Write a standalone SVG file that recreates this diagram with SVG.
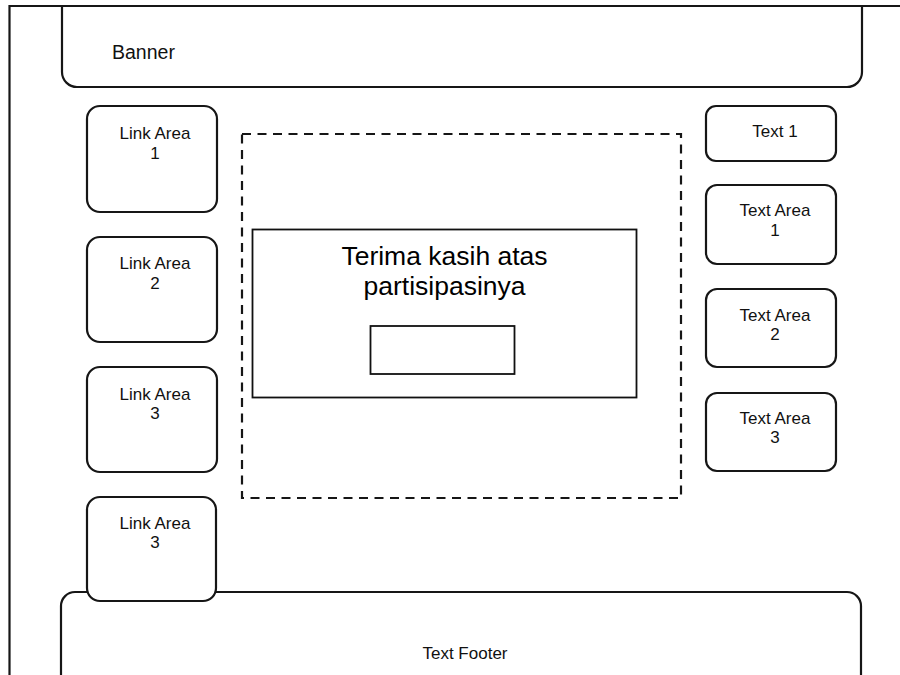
<svg xmlns="http://www.w3.org/2000/svg" width="900" height="675" viewBox="0 0 900 675">
  <style>
    .box { fill: #ffffff; stroke: #161616; stroke-width: 2.2; }
    .line { fill: none; stroke: #161616; stroke-width: 2.2; }
    .plain { fill: #ffffff; stroke: #111111; stroke-width: 1.8; }
    .dash { fill: none; stroke: #161616; stroke-width: 2.2; stroke-dasharray: 9 6.5; }
    .lbl { font-family: "Liberation Sans", Arial, sans-serif; font-size: 17px; fill: #111111; text-anchor: middle; }
    .big { font-family: "Liberation Sans", Arial, sans-serif; font-size: 26.5px; fill: #000000; text-anchor: middle; }
  </style>
  <rect width="900" height="675" fill="#ffffff"/>

  <!-- page frame -->
  <g id="frame">
    <path class="line" d="M9.5,675 V6 H900"/>
  </g>

  <!-- header -->
  <g id="banner">
    <path class="line" d="M62,6 V72 A15,15 0 0 0 77,87 H847 A15,15 0 0 0 862,72 V6"/>
    <text class="lbl" x="112" y="59" style="text-anchor:start;font-size:19.5px">Banner</text>
  </g>

  <!-- footer -->
  <g id="footer">
    <path class="box" d="M61,676 V606 A14,14 0 0 1 75,592 H847 A14,14 0 0 1 861,606 V676"/>
    <text class="lbl" x="465" y="659">Text Footer</text>
  </g>

  <!-- left column -->
  <g id="link1">
    <rect class="box" x="87" y="106" width="130" height="106" rx="13"/>
    <text class="lbl" x="155" y="139">Link Area</text>
    <text class="lbl" x="155" y="159">1</text>
  </g>
  <g id="link2">
    <rect class="box" x="87" y="237" width="130" height="105" rx="13"/>
    <text class="lbl" x="155" y="269">Link Area</text>
    <text class="lbl" x="155" y="289">2</text>
  </g>
  <g id="link3">
    <rect class="box" x="87" y="367" width="130" height="105" rx="13"/>
    <text class="lbl" x="155" y="400">Link Area</text>
    <text class="lbl" x="155" y="419">3</text>
  </g>
  <g id="link4">
    <rect class="box" x="87" y="497" width="129" height="104" rx="13"/>
    <text class="lbl" x="155" y="529">Link Area</text>
    <text class="lbl" x="155" y="548">3</text>
  </g>

  <!-- content area -->
  <g id="content">
    <rect class="dash" x="242" y="134" width="439" height="364"/>
  </g>
  <g id="message">
    <rect class="plain" x="252.5" y="229.5" width="384" height="168"/>
    <text class="big" x="444.5" y="265">Terima kasih atas</text>
    <text class="big" x="444.5" y="295">partisipasinya</text>
  </g>
  <g id="button">
    <rect class="plain" x="370.5" y="326" width="144" height="48"/>
  </g>

  <!-- right column -->
  <g id="text1">
    <rect class="box" x="706" y="106" width="130" height="55" rx="10"/>
    <text class="lbl" x="775" y="137">Text 1</text>
  </g>
  <g id="textarea1">
    <rect class="box" x="706" y="185" width="130" height="79" rx="11"/>
    <text class="lbl" x="775" y="216">Text Area</text>
    <text class="lbl" x="775" y="236">1</text>
  </g>
  <g id="textarea2">
    <rect class="box" x="706" y="289" width="130" height="78" rx="11"/>
    <text class="lbl" x="775" y="321">Text Area</text>
    <text class="lbl" x="775" y="340">2</text>
  </g>
  <g id="textarea3">
    <rect class="box" x="706" y="393" width="130" height="78" rx="11"/>
    <text class="lbl" x="775" y="424">Text Area</text>
    <text class="lbl" x="775" y="443">3</text>
  </g>
</svg>
